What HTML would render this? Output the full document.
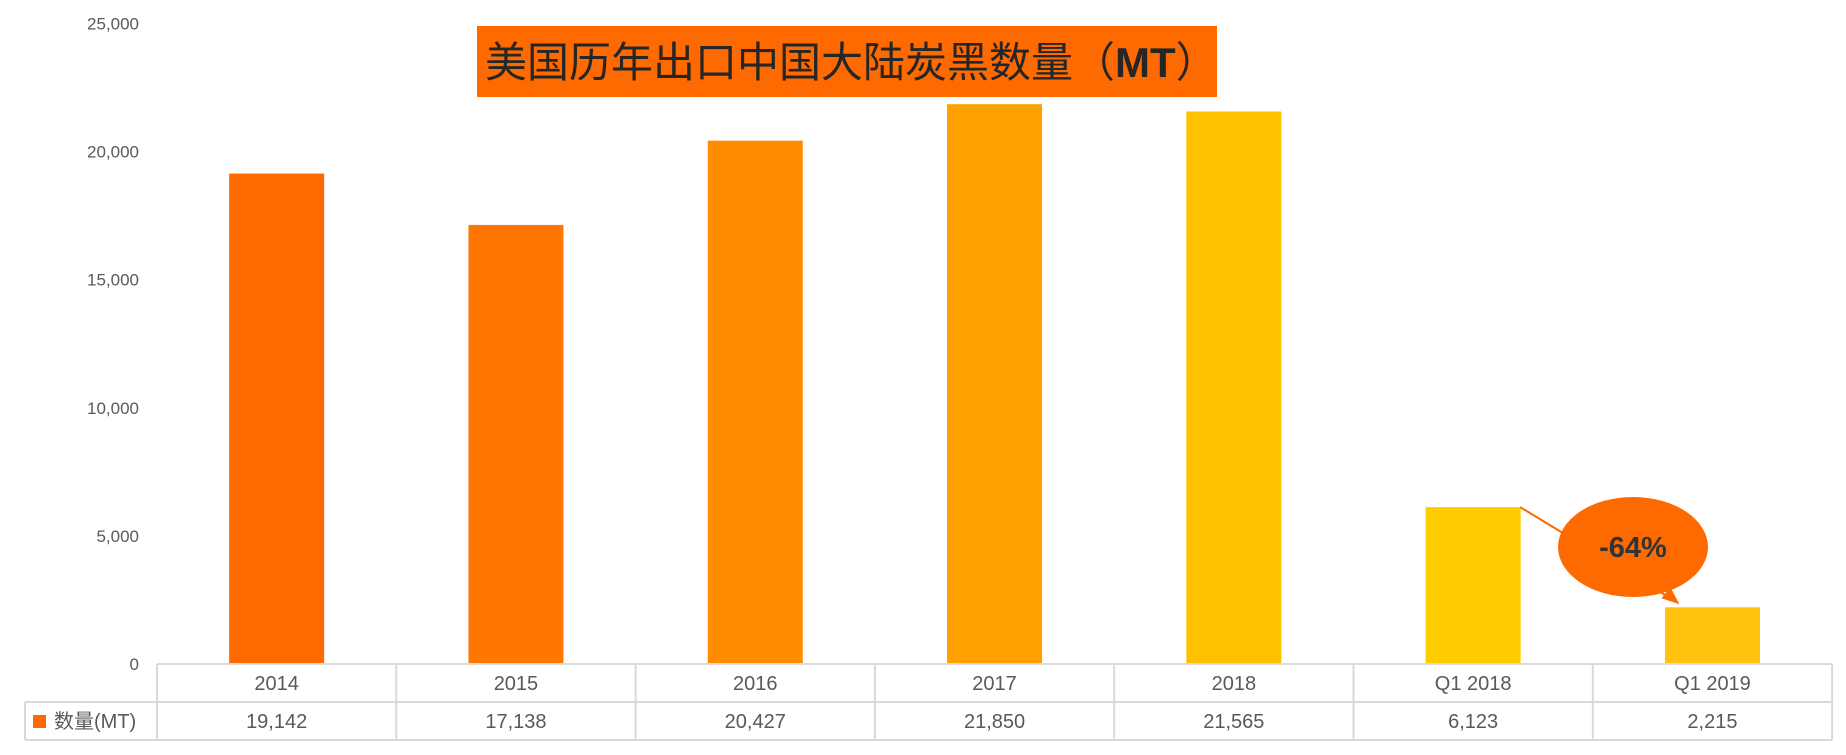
<!DOCTYPE html>
<html><head><meta charset="utf-8"><style>
body{margin:0;background:#fff;}
svg text{font-family:"Liberation Sans","Noto Sans CJK SC",sans-serif;}
</style></head><body>
<svg id="chart" width="1846" height="750" viewBox="0 0 1846 750" xmlns="http://www.w3.org/2000/svg">
<g id="yaxis"></g>
<g id="bars"></g>
<g id="table"></g>
<rect x="477" y="26" width="740" height="71" fill="#FF6A00"/>
<text x="485" y="77" font-size="42" fill="#262626" font-family="'Noto Sans CJK SC',sans-serif">美国历年出口中国大陆炭黑数量（<tspan font-weight="bold">MT</tspan>）</text>
<g id="annot"></g>
</svg>
<script>
const categories=["2014","2015","2016","2017","2018","Q1 2018","Q1 2019"];
const values=[19142,17138,20427,21850,21565,6123,2215];
const valueLabels=["19,142","17,138","20,427","21,850","21,565","6,123","2,215"];
const yTicks=[0,5000,10000,15000,20000,25000];
const yTickLabels=["0","5,000","10,000","15,000","20,000","25,000"];
const colors=["#FF6A00","#FF7700","#FF8C00","#FFA000","#FFC000","#FFCC00","#FFC20E"];
const NS="http://www.w3.org/2000/svg";
const x0=157,bw=239.3,y0=664,yTop=23.5,ymax=25000;
const y=v=>y0-(v/ymax)*(y0-yTop);
const xc=i=>x0+bw*(i+0.5);
function mk(p,t,a){const e=document.createElementNS(NS,t);for(const k in a)e.setAttribute(k,a[k]);p.appendChild(e);return e;}
const ya=document.getElementById('yaxis');
yTicks.forEach((t,i)=>{const e=mk(ya,'text',{x:139,y:y(t)+6,'text-anchor':'end','font-size':17,fill:'#595959'});e.textContent=yTickLabels[i];

});
const bg=document.getElementById('bars');
values.forEach((v,i)=>{const r=mk(bg,'rect',{x:xc(i)-47.5,y:y(v),width:95,height:y0-y(v),fill:colors[i]});

});
const tb=document.getElementById('table');
const ln=(a,b,c,d)=>{const l=mk(tb,'line',{x1:a,y1:b,x2:c,y2:d,stroke:'#d9d9d9','stroke-width':2});

};
const xr=x0+bw*7;
ln(x0,664,xr,664);ln(25,702,xr,702);ln(25,740,xr,740);ln(25,702,25,740);
for(let i=0;i<=7;i++)ln(x0+bw*i,664,x0+bw*i,740);
categories.forEach((c,i)=>{const t=mk(tb,'text',{x:xc(i),y:690,'text-anchor':'middle','font-size':20,fill:'#595959'});t.textContent=c;


const u=mk(tb,'text',{x:xc(i),y:728,'text-anchor':'middle','font-size':20,fill:'#595959'});u.textContent=valueLabels[i];

});
const lk=mk(tb,'rect',{x:33,y:715,width:13,height:13,fill:'#FF6A00'});


const lt=mk(tb,'text',{x:54,y:728,'font-size':20,fill:'#595959'});lt.textContent="数量(MT)";


const an=document.getElementById('annot');
const ax1=xc(5)+47,ay1=y(values[5]),ax2=xc(6)-37,ay2=y(values[6])-6;
const al=mk(an,'line',{x1:ax1,y1:ay1,x2:ax2,y2:ay2,stroke:'#FF6A00','stroke-width':2});


const ah=mk(an,'polygon',{points:`${ax2+4},${ay2+3} ${ax2-14},${ay2-3} ${ax2-5},${ay2-14}`,fill:'#FF6A00'});


const el=mk(an,'ellipse',{cx:1633,cy:547,rx:75,ry:50,fill:'#FF6A00'});


const pt=mk(an,'text',{x:1633,y:557,'text-anchor':'middle','font-size':29,'font-weight':'bold',fill:'#333'});
pt.textContent="-64%";


</script>
</body></html>
